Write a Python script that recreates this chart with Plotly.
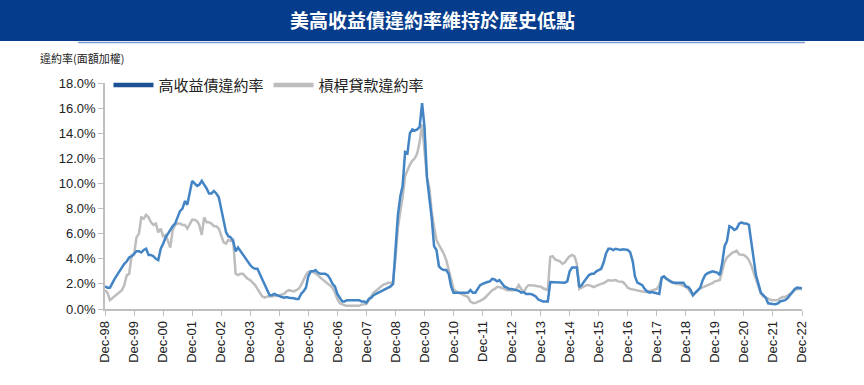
import pandas as pd
import plotly.graph_objects as go

# Monthly observations, Dec-1998 .. Dec-2022
dates = pd.date_range("1998-12-01", "2022-12-01", freq="MS")

hy_rate = [
    1.8, 1.7, 1.7, 2.1, 2.4, 2.7, 3.0, 3.4, 3.6, 3.8, 4.1, 4.2, 4.4,
    4.6, 4.6, 4.5, 4.7, 4.8, 4.3, 4.3, 4.2, 4.0, 3.9, 4.8, 5.2,
    5.7, 6.0, 6.3, 6.6, 6.8, 7.3, 7.8, 8.0, 8.6, 8.3, 9.2, 10.2,
    10.0, 9.8, 9.9, 10.2, 9.9, 9.6, 9.2, 9.2, 9.4, 9.2, 8.9, 8.0,
    6.9, 6.1, 5.8, 5.7, 5.4, 4.6, 4.9, 4.6, 4.3, 4.0, 3.8, 3.5,
    3.3, 3.2, 3.2, 2.8, 2.4, 2.0, 1.5, 1.1, 1.1, 1.2, 1.1, 1.0,
    0.95, 0.9, 0.95, 0.9, 0.9, 0.85, 0.8, 0.8, 1.2, 1.4, 1.7, 2.6,
    3.0, 3.0, 3.1, 2.9, 2.8, 2.8, 2.8, 2.7, 2.4, 2.0, 1.8, 1.2,
    0.9, 0.6, 0.6, 0.7, 0.7, 0.7, 0.7, 0.7, 0.7, 0.6, 0.6, 0.5,
    0.8, 0.9, 1.1, 1.2, 1.3, 1.4, 1.5, 1.6, 1.7, 1.8, 2.0, 4.5,
    7.5, 9.0, 9.8, 12.5, 12.4, 14.0, 14.3, 14.2, 14.3, 14.5, 16.4, 14.5,
    10.5, 8.8, 7.3, 5.0, 4.7, 3.4, 3.2, 3.1, 3.1, 2.8, 1.8, 1.3,
    1.3, 1.3, 1.3, 1.3, 1.3, 1.3, 1.5, 1.3, 1.3, 1.6, 1.9, 2.0,
    2.1, 2.15, 2.2, 2.4, 2.35, 2.2, 2.3, 2.0, 1.8, 1.7, 1.6, 1.6,
    1.55, 1.5, 1.45, 1.3, 1.35, 1.2, 1.2, 1.2, 1.1, 1.0, 0.75, 0.65,
    0.6, 0.6, 0.6, 2.15, 2.15, 2.15, 2.15, 2.15, 2.1, 2.1, 2.2, 3.0,
    3.3, 3.3, 3.3, 1.75, 1.9, 2.2, 2.5, 2.7, 2.8, 2.8, 3.0, 3.1,
    3.2, 3.7, 4.4, 4.8, 4.8, 4.7, 4.8, 4.75, 4.7, 4.75, 4.7, 4.7,
    4.5, 3.8, 2.6, 2.1, 2.0, 1.9, 1.6, 1.4, 1.3, 1.35, 1.3, 1.25,
    1.2, 2.5, 2.6, 2.4, 2.25, 2.15, 2.1, 2.1, 2.05, 2.1, 2.1, 1.8,
    1.75, 1.5, 1.1, 1.3, 1.5, 1.7, 2.3, 2.7, 2.85, 2.9, 3.0, 2.95,
    2.9, 2.7, 3.6, 5.0, 5.4, 6.6, 6.5, 6.3, 6.4, 6.8, 6.9, 6.8,
    6.8, 6.7, 5.3, 3.8, 2.7, 2.0, 1.3, 1.1, 0.9, 0.45, 0.4, 0.4,
    0.38, 0.45, 0.6, 0.65, 0.7, 0.85, 1.1, 1.3, 1.6, 1.7, 1.7, 1.65,
]

loan_rate = [
    1.5, 1.3, 0.7, 0.85, 1.0, 1.2, 1.4, 1.5, 1.9, 2.7, 2.8, 4.3, 4.3,
    5.7, 6.0, 7.3, 7.2, 7.5, 7.3, 6.9, 6.7, 6.8, 6.1, 6.4, 5.8,
    5.9, 5.4, 4.9, 6.3, 6.7, 6.8, 6.8, 6.7, 6.7, 6.4, 6.8, 7.1,
    7.1, 7.0, 6.7, 5.9, 7.3, 6.9, 6.9, 6.8, 6.6, 6.6, 6.4, 5.9,
    5.3, 5.2, 5.5, 5.4, 5.5, 2.8, 2.7, 2.8, 2.8, 2.6, 2.4, 2.3,
    2.1, 1.9, 1.6, 1.3, 1.0, 0.9, 1.0, 1.0, 1.0, 1.0, 1.05, 1.1,
    1.15, 1.2, 1.4, 1.5, 1.45, 1.4, 1.5, 1.6, 1.9, 2.3, 2.7, 2.95,
    3.0, 2.95, 2.85, 2.7, 2.5, 2.35, 2.2, 2.05, 1.9, 1.7, 1.3, 0.8,
    0.45, 0.35, 0.3, 0.25, 0.25, 0.22, 0.2, 0.22, 0.25, 0.35, 0.4, 0.4,
    0.7, 1.0, 1.3, 1.45, 1.6, 1.8, 1.95, 2.0, 2.1, 2.05, 2.2, 4.0,
    6.5, 7.8, 8.9, 10.6, 11.1, 11.5, 11.8, 12.0, 12.4, 13.3, 14.7, 12.8,
    10.5, 9.6, 7.8, 6.5, 5.5, 5.1, 4.8, 4.4, 3.9, 3.2, 2.3, 1.6,
    1.4, 1.3, 1.2, 1.1, 1.05, 0.95, 0.6, 0.47, 0.47, 0.55, 0.65, 0.75,
    0.9, 1.1, 1.35, 1.5, 1.6, 1.75, 1.75, 1.7, 1.6, 1.5, 1.5, 1.5,
    1.5, 1.6, 1.9, 1.6, 1.3, 1.7, 1.9, 1.9, 1.9, 1.85, 1.8, 1.8,
    1.65, 1.6, 1.5, 4.15, 4.2, 3.95, 3.9, 3.8, 3.6, 3.7, 4.0, 4.2,
    4.3, 4.2, 3.6, 1.6, 1.7, 1.8, 1.9, 1.9, 1.8, 1.75, 1.85, 1.95,
    2.0, 2.05, 2.15, 2.3, 2.25, 2.25, 2.3, 2.2, 2.15, 2.15, 1.95, 1.7,
    1.6, 1.55, 1.55, 1.45, 1.45, 1.4, 1.35, 1.35, 1.4, 1.45, 1.55, 1.6,
    1.9, 2.5, 2.55, 2.4, 2.3, 2.2, 2.1, 2.0, 2.0, 1.95, 1.85, 1.75,
    1.6, 1.3, 1.1, 1.3, 1.5, 1.65, 1.72, 1.8, 1.85, 1.95, 2.05, 2.2,
    2.25, 2.3, 3.0, 3.75, 4.1, 4.3, 4.45, 4.55, 4.65, 4.35, 4.35, 4.3,
    4.15, 3.9, 3.5, 2.9, 2.4, 1.7, 1.25, 1.0, 0.9, 0.8, 0.73, 0.7,
    0.68, 0.72, 0.85, 0.95, 0.95, 1.05, 1.15, 1.3, 1.5, 1.6, 1.6, 1.6,
]

tick_dates = pd.date_range("1998-12-01", "2022-12-01", freq="12MS")
tick_labels = ["Dec-%02d" % (d.year % 100) for d in tick_dates]
y_ticks = [0, 2, 4, 6, 8, 10, 12, 14, 16, 18]

title_text = "美高收益債違約率維持於歷史低點"
y_title = "違約率(面額加權)"
name_hy = "高收益債違約率"
name_loan = "槓桿貸款違約率"

CJK = "Noto Sans CJK TC"
LAT = "Liberation Sans, Arial, " + CJK
BLUE = "#4384C5"
BLUE_LEG = "#1E5296"
GRAY = "#BDBDBD"

fig = go.Figure()
fig.add_trace(go.Scatter(x=dates, y=loan_rate, mode="lines", showlegend=False,
                         line=dict(color=GRAY, width=2.5), name=name_loan))
fig.add_trace(go.Scatter(x=dates, y=hy_rate, mode="lines", showlegend=False,
                         line=dict(color=BLUE, width=2.5), name=name_hy))
# legend entries (thicker swatches)
fig.add_trace(go.Scatter(x=[None], y=[None], mode="lines", name=name_hy,
                         line=dict(color=BLUE_LEG, width=4.5)))
fig.add_trace(go.Scatter(x=[None], y=[None], mode="lines", name=name_loan,
                         line=dict(color=GRAY, width=4.5)))

L, R, T, B = 105, 62, 83, 76
W, H = 864, 385
pw, ph = W - L - R, H - T - B

def px_x(x):
    return (x - L) / pw

def px_y(y):
    return (H - B - y) / ph

fig.add_shape(type="rect", xref="paper", yref="paper",
              x0=px_x(-2), x1=px_x(W + 2), y0=px_y(41), y1=px_y(-2),
              fillcolor="#063C8C", line=dict(width=0), layer="below")
fig.add_shape(type="line", xref="paper", yref="paper",
              x0=px_x(78), x1=px_x(805), y0=px_y(42.5), y1=px_y(42.5),
              line=dict(color="#7C9CCD", width=1.5))

fig.add_annotation(xref="paper", yref="paper", x=px_x(W / 2), y=px_y(20),
                   text="<b>" + title_text + "</b>", showarrow=False,
                   xanchor="center", yanchor="middle",
                   font=dict(family=CJK, size=19, color="white"))
fig.add_annotation(xref="paper", yref="paper", x=px_x(38), y=px_y(58),
                   text=y_title, showarrow=False, xanchor="left", yanchor="middle",
                   font=dict(family=CJK, size=11, color="#222222"))

fig.update_layout(
    width=W, height=H,
    margin=dict(l=L, r=R, t=T, b=B, autoexpand=False),
    paper_bgcolor="white", plot_bgcolor="white",
    font=dict(family=LAT, size=13, color="#222222"),
    hovermode=False,
    legend=dict(orientation="h", x=0.005, y=0.99, xanchor="left", yanchor="middle",
                font=dict(family=CJK, size=15, color="#222222"),
                bgcolor="rgba(0,0,0,0)", itemwidth=40, tracegroupgap=0),
    xaxis=dict(type="date", range=[dates[0], dates[-1]],
               tickmode="array", tickvals=tick_dates, ticktext=tick_labels,
               tickangle=-90, ticks="outside", ticklen=5, tickcolor="#BFBFBF",
               showline=True, linecolor="#BFBFBF", linewidth=1.5,
               showgrid=False, zeroline=False,
               tickfont=dict(family=LAT, size=13, color="#222222")),
    yaxis=dict(range=[0, 18], tickmode="array", tickvals=y_ticks,
               ticktext=["%.1f%%" % v for v in y_ticks],
               ticks="outside", ticklen=5, tickcolor="#BFBFBF",
               showline=True, linecolor="#BFBFBF", linewidth=1.5,
               showgrid=False, zeroline=False,
               tickfont=dict(family=LAT, size=13, color="#222222")),
)

fig.write_html("out.html",
               config={"displayModeBar": False},
               post_script="document.body.style.margin='0';document.body.style.overflow='hidden';")
